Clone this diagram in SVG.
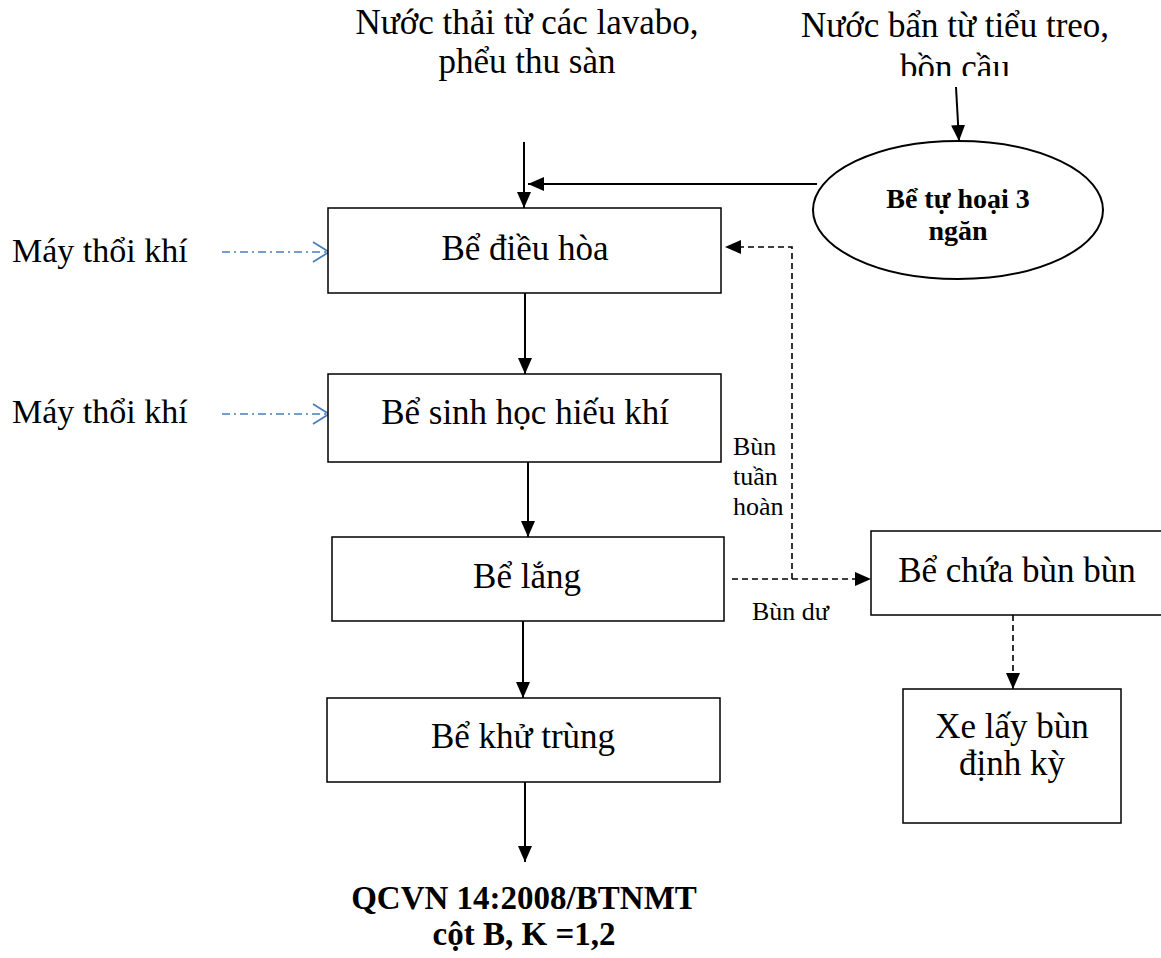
<svg xmlns="http://www.w3.org/2000/svg" width="1161" height="958" viewBox="0 0 1161 958">
  <style>
    .txt { font-family: "Liberation Serif", "Times New Roman", serif; fill: #000; }
    .big { font-size: 35px; }
    .small { font-size: 26px; }
    .bold { font-weight: bold; }
    .box { fill: #fff; stroke: #000; stroke-width: 1.5; }
    .flow { fill: none; stroke: #000; stroke-width: 2; }
    .dash { fill: none; stroke: #000; stroke-width: 1.6; stroke-dasharray: 6 4; }
    .air { fill: none; stroke: #4a7ebb; stroke-width: 1.5; stroke-dasharray: 8 4 2 4; }
    .airhead { fill: none; stroke: #4a7ebb; stroke-width: 1.8; }
  </style>
  <defs>
    <marker id="arrow" markerUnits="userSpaceOnUse" markerWidth="16" markerHeight="16" viewBox="0 0 16 16" refX="16" refY="8" orient="auto">
      <path d="M0,1 L16,8 L0,15 Z" fill="#000"/>
    </marker>
    <clipPath id="clipTopRight">
      <rect x="700" y="0" width="461" height="76"/>
    </clipPath>
  </defs>

  <rect width="1161" height="958" fill="#fff"/>

  <!-- connectors -->
  <g id="connectors">
    <!-- main inflow -->
    <line class="flow" x1="524" y1="142" x2="524" y2="208" marker-end="url(#arrow)"/>
    <!-- septic tank outflow -->
    <line class="flow" x1="817" y1="184" x2="528" y2="184" marker-end="url(#arrow)"/>
    <!-- toilet water into septic tank -->
    <line class="flow" x1="956" y1="87" x2="959" y2="141" marker-end="url(#arrow)"/>
    <!-- treatment chain -->
    <line class="flow" x1="525" y1="293" x2="525" y2="374" marker-end="url(#arrow)"/>
    <line class="flow" x1="528" y1="458" x2="528" y2="537" marker-end="url(#arrow)"/>
    <line class="flow" x1="523" y1="621" x2="523" y2="698" marker-end="url(#arrow)"/>
    <line class="flow" x1="525" y1="782" x2="525" y2="862" marker-end="url(#arrow)"/>
    <!-- sludge lines -->
    <line class="dash" x1="732" y1="579" x2="871" y2="579" marker-end="url(#arrow)"/>
    <polyline class="dash" points="792,579 792,247 725,247" marker-end="url(#arrow)"/>
    <line class="dash" x1="1013" y1="615" x2="1013" y2="689" marker-end="url(#arrow)"/>
    <!-- air blowers -->
    <line class="air" x1="222" y1="252" x2="328" y2="252"/>
    <polyline class="airhead" points="313,242 329,252 313,262"/>
    <line class="air" x1="222" y1="414" x2="328" y2="414"/>
    <polyline class="airhead" points="313,404 329,414 313,424"/>
  </g>

  <!-- inflow labels -->
  <g id="src-lavabo">
    <text class="txt big" x="527" y="34" text-anchor="middle">Nước thải từ các lavabo,</text>
    <text class="txt big" x="527" y="73" text-anchor="middle">phểu thu sàn</text>
  </g>
  <g id="src-toilet" clip-path="url(#clipTopRight)">
    <text class="txt big" x="955" y="37" text-anchor="middle">Nước bẩn từ tiểu treo,</text>
    <text class="txt big" x="955" y="79" text-anchor="middle">bồn cầu</text>
  </g>

  <g id="septic-tank">
    <ellipse cx="958" cy="210" rx="145" ry="69" fill="#fff" stroke="#000" stroke-width="2"/>
    <text class="txt bold" font-size="28" x="958" y="208" text-anchor="middle">Bể tự hoại 3</text>
    <text class="txt bold" font-size="28" x="958" y="240" text-anchor="middle">ngăn</text>
  </g>

  <g id="blower-1">
    <text class="txt" font-size="34" x="12" y="262">Máy thổi khí</text>
  </g>
  <g id="blower-2">
    <text class="txt" font-size="34" x="12" y="423">Máy thổi khí</text>
  </g>

  <g id="equalization">
    <rect class="box" x="328" y="208" width="393" height="85"/>
    <text class="txt big" x="525" y="260" text-anchor="middle">Bể điều hòa</text>
  </g>
  <g id="aerobic">
    <rect class="box" x="328" y="374" width="393" height="88"/>
    <text class="txt big" x="525" y="424" text-anchor="middle">Bể sinh học hiếu khí</text>
  </g>
  <g id="settling">
    <rect class="box" x="332" y="537" width="392" height="84"/>
    <text class="txt big" x="527" y="588" text-anchor="middle">Bể lắng</text>
  </g>
  <g id="disinfection">
    <rect class="box" x="327" y="698" width="393" height="84"/>
    <text class="txt big" x="523" y="748" text-anchor="middle">Bể khử trùng</text>
  </g>

  <g id="label-recycle">
    <text class="txt small" x="733" y="455">Bùn</text>
    <text class="txt small" x="733" y="485">tuần</text>
    <text class="txt small" x="733" y="515">hoàn</text>
  </g>
  <g id="label-excess">
    <text class="txt small" x="752" y="620">Bùn dư</text>
  </g>

  <g id="sludge-tank">
    <rect class="box" x="871" y="531" width="300" height="84"/>
    <text class="txt big" x="1017" y="582" text-anchor="middle">Bể chứa bùn bùn</text>
  </g>
  <g id="sludge-truck">
    <rect class="box" x="903" y="689" width="218" height="134"/>
    <text class="txt big" x="1012" y="738" text-anchor="middle">Xe lấy bùn</text>
    <text class="txt big" x="1012" y="775" text-anchor="middle">định kỳ</text>
  </g>

  <g id="standard">
    <text class="txt bold" font-size="33" x="524" y="909" text-anchor="middle">QCVN 14:2008/BTNMT</text>
    <text class="txt bold" font-size="33" x="524" y="945" text-anchor="middle">cột B, K =1,2</text>
  </g>
</svg>
